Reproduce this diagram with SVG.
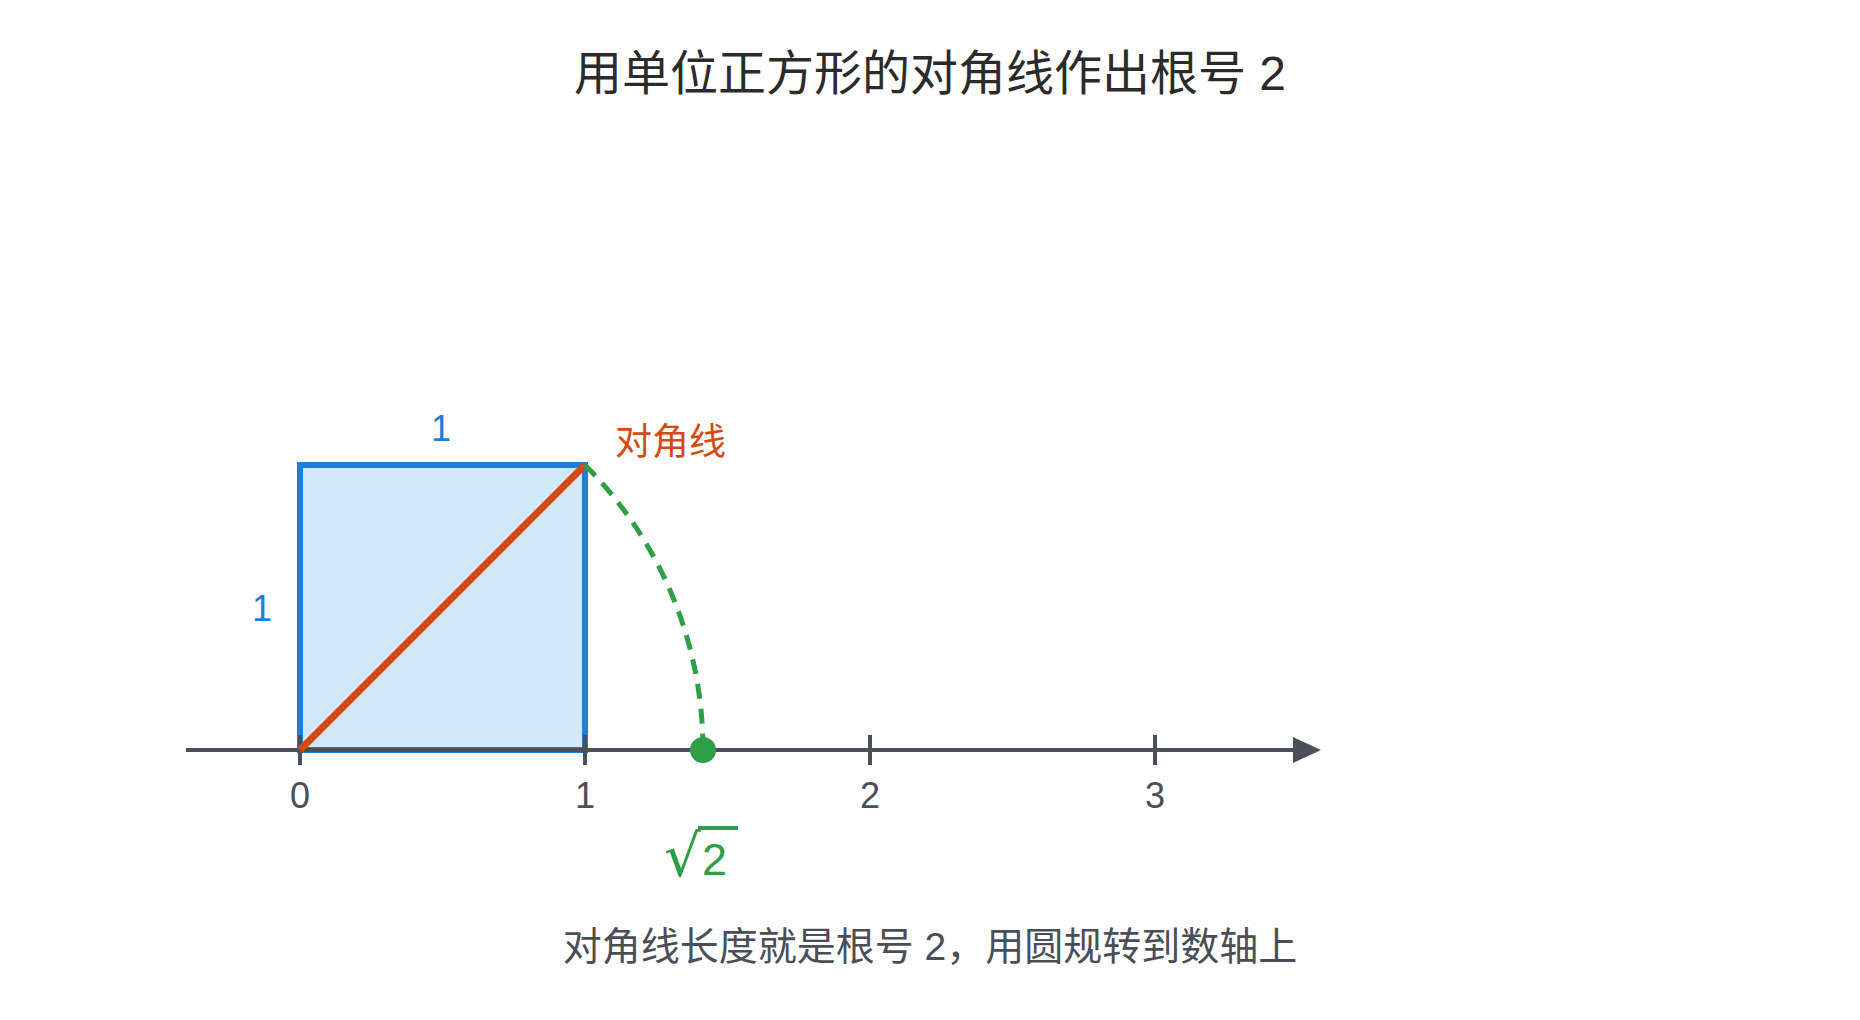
<svg xmlns="http://www.w3.org/2000/svg" width="1860" height="1020" viewBox="0 0 1860 1020">
<defs>
<style>
.cjk{font-family:"Liberation Sans","Noto Sans CJK SC",sans-serif}
.num{font-family:"Liberation Sans","Noto Sans CJK SC",sans-serif;font-size:36px;text-anchor:middle}
.tick{stroke:#4a5059;stroke-width:4}
</style>
<marker id="arr" markerWidth="30" markerHeight="26" refX="0" refY="13" markerUnits="userSpaceOnUse" orient="auto">
<path d="M0,0 L28,13 L0,26 Z" fill="#4a5059"/>
</marker>
</defs>
<rect width="1860" height="1020" fill="#ffffff"/>
<text class="cjk" x="930" y="90" font-size="48" fill="#2b2b2b" text-anchor="middle">用单位正方形的对角线作出根号 2</text>
<g id="square">
<rect x="300" y="465" width="285" height="285" fill="#d2e9fc" stroke="#1f7fd8" stroke-width="6"/>
</g>
<g id="axis">
<line x1="186" y1="750" x2="1293" y2="750" stroke="#4a5059" stroke-width="4" marker-end="url(#arr)"/>
<line class="tick" x1="300" y1="735" x2="300" y2="765"/>
<line class="tick" x1="585" y1="735" x2="585" y2="765"/>
<line class="tick" x1="870" y1="735" x2="870" y2="765"/>
<line class="tick" x1="1155" y1="735" x2="1155" y2="765"/>
<text class="num" x="300" y="808" fill="#4a5059">0</text>
<text class="num" x="585" y="808" fill="#4a5059">1</text>
<text class="num" x="870" y="808" fill="#4a5059">2</text>
<text class="num" x="1155" y="808" fill="#4a5059">3</text>
</g>
<g id="connectors">
<line id="diagonal" x1="300" y1="750" x2="585" y2="465" stroke="#d64a11" stroke-width="7"/>
<path id="arc" d="M585,465 A403,403 0 0 1 703,750" fill="none" stroke="#2e9e47" stroke-width="5" stroke-dasharray="15,10"/>
</g>
<g id="point">
<circle cx="703" cy="750" r="13" fill="#2e9e47"/>
</g>
<g id="labels">
<text class="num" x="441" y="441" fill="#1f7fd8">1</text>
<text class="num" x="262" y="621" fill="#1f7fd8">1</text>
<text class="cjk" x="615" y="455" font-size="37" fill="#d64a11">对角线</text>
<text x="664" y="876" font-family="DejaVu Sans,sans-serif" font-size="58" fill="#2e9e47">√</text>
<text x="702" y="875" font-family="Liberation Sans,sans-serif" font-size="45" fill="#2e9e47">2</text>
<line x1="698" y1="828" x2="738" y2="828" stroke="#2e9e47" stroke-width="4"/>
</g>
<text class="cjk" x="930" y="960" font-size="39" fill="#4a4f57" text-anchor="middle">对角线长度就是根号 2，用圆规转到数轴上</text>
</svg>
